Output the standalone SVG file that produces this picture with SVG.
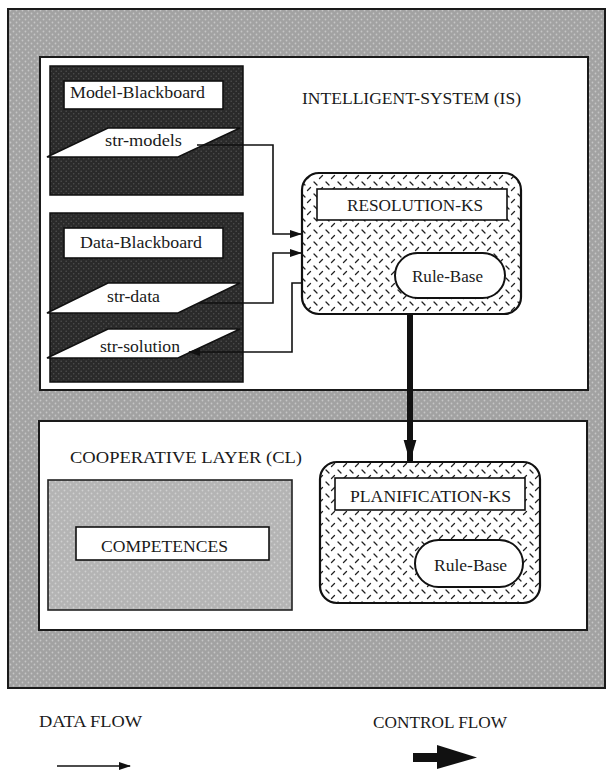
<svg xmlns="http://www.w3.org/2000/svg" width="607" height="772" viewBox="0 0 607 772">
<style>
text{font-family:"Liberation Serif","Times New Roman",serif;font-size:17px;fill:#1a1a1a}
.lbl{fill:#fff;stroke:#111;stroke-width:1.6}
.frame{stroke:#1a1a1a;stroke-width:2}
.ks{fill:url(#tread);stroke:#111;stroke-width:2.2}
.rb{fill:#fff;stroke:#111;stroke-width:2}
.para{fill:#fff;stroke:#111;stroke-width:1.6}
.conn{fill:none;stroke:#111;stroke-width:1.6}
</style>
<defs>
<pattern id="grey" width="6" height="6" patternUnits="userSpaceOnUse">
<rect width="6" height="6" fill="#a2a2a2"/>
<circle cx="1.5" cy="1.5" r="0.9" fill="#c6c6c6"/>
<circle cx="4.5" cy="4.5" r="0.9" fill="#c6c6c6"/>
</pattern>
<pattern id="dark" width="5" height="5" patternUnits="userSpaceOnUse">
<rect width="5" height="5" fill="#2a2a2a"/>
<circle cx="1.2" cy="1.2" r="0.8" fill="#4e4e4e"/>
<circle cx="3.7" cy="3.7" r="0.8" fill="#4e4e4e"/>
</pattern>
<pattern id="light" width="6" height="6" patternUnits="userSpaceOnUse">
<rect width="6" height="6" fill="#b4b4b4"/>
<circle cx="1.5" cy="1.5" r="0.9" fill="#d0d0d0"/>
<circle cx="4.5" cy="4.5" r="0.9" fill="#d0d0d0"/>
</pattern>
<pattern id="tread" width="12" height="12" patternUnits="userSpaceOnUse">
<rect width="12" height="12" fill="#fff"/>
<line x1="2" y1="2" x2="5" y2="5" stroke="#222" stroke-width="1.3" stroke-linecap="round"/>
<line x1="7.5" y1="10.5" x2="10.5" y2="7.5" stroke="#222" stroke-width="1.3" stroke-linecap="round"/>
</pattern>
<marker id="ah" markerWidth="12" markerHeight="8" refX="11" refY="4" orient="auto" markerUnits="userSpaceOnUse">
<path d="M0,0 L12,4 L0,8 z" fill="#111"/>
</marker>
<marker id="thick" markerWidth="22" markerHeight="38" refX="38" refY="11" orient="auto" markerUnits="userSpaceOnUse" viewBox="0 0 38 22">
<path d="M0,0 L38,11 L0,22 z" fill="#111"/>
</marker>
</defs>

<g id="outer-frame">
<rect x="8" y="9" width="597" height="679" fill="url(#grey)" class="frame"/>
</g>

<g id="intelligent-system">
<rect x="40" y="57" width="548" height="333" fill="#fff" class="frame"/>
<text x="302" y="104" textLength="219" lengthAdjust="spacingAndGlyphs">INTELLIGENT-SYSTEM (IS)</text>
</g>

<g id="model-blackboard">
<rect x="50" y="66" width="193" height="129" fill="url(#dark)" stroke="#111" stroke-width="1.5"/>
<rect x="64" y="81" width="159" height="28" class="lbl"/>
<text x="70" y="98" textLength="135" lengthAdjust="spacingAndGlyphs">Model-Blackboard</text>
</g>
<g id="str-models">
<polygon points="108,128 240,128 178,157 47,157" class="para"/>
<text x="105" y="146" textLength="77" lengthAdjust="spacingAndGlyphs">str-models</text>
</g>

<g id="data-blackboard">
<rect x="50" y="213" width="193" height="169" fill="url(#dark)" stroke="#111" stroke-width="1.5"/>
<rect x="64" y="228" width="159" height="30" class="lbl"/>
<text x="80" y="248" textLength="122" lengthAdjust="spacingAndGlyphs">Data-Blackboard</text>
</g>
<g id="str-data">
<polygon points="108,283 240,283 178,313 47,313" class="para"/>
<text x="107" y="302" textLength="53" lengthAdjust="spacingAndGlyphs">str-data</text>
</g>
<g id="str-solution">
<polygon points="108,329 240,329 178,358 47,358" class="para"/>
<text x="100" y="352" textLength="80" lengthAdjust="spacingAndGlyphs">str-solution</text>
</g>

<g id="resolution-ks">
<rect x="302" y="173" width="219" height="141" rx="17" class="ks"/>
<rect x="317" y="189" width="190" height="31" class="lbl"/>
<text x="347" y="211" textLength="136" lengthAdjust="spacingAndGlyphs">RESOLUTION-KS</text>
<rect x="395" y="253" width="110" height="45" rx="22.5" class="rb"/>
<text x="412" y="282" textLength="71" lengthAdjust="spacingAndGlyphs">Rule-Base</text>
</g>

<g id="cooperative-layer">
<rect x="39" y="421" width="548" height="209" fill="#fff" class="frame"/>
<text x="70" y="463" textLength="232" lengthAdjust="spacingAndGlyphs">COOPERATIVE  LAYER (CL)</text>
</g>

<g id="competences">
<rect x="48" y="480" width="244" height="130" fill="url(#light)" stroke="#222" stroke-width="1.6"/>
<rect x="76" y="527" width="193" height="33" class="lbl"/>
<text x="101" y="552" textLength="127" lengthAdjust="spacingAndGlyphs">COMPETENCES</text>
</g>

<g id="planification-ks">
<rect x="320" y="462" width="220" height="141" rx="17" class="ks"/>
<rect x="335" y="478" width="190" height="32" class="lbl"/>
<text x="350" y="502" textLength="161" lengthAdjust="spacingAndGlyphs">PLANIFICATION-KS</text>
<rect x="415" y="540" width="108" height="47" rx="23.5" class="rb"/>
<text x="434" y="571" textLength="73" lengthAdjust="spacingAndGlyphs">Rule-Base</text>
</g>

<g id="connectors">
<path d="M197,145 H273 V234 H301" class="conn" marker-end="url(#ah)"/>
<path d="M199,303 H273 V253 H301" class="conn" marker-end="url(#ah)"/>
<path d="M302,283 H292 V352 H189" class="conn" marker-end="url(#ah)"/>
<path d="M410,314 V462" fill="none" stroke="#111" stroke-width="6" marker-end="url(#thick)"/>
</g>

<g id="legend">
<text x="39" y="727" textLength="103" lengthAdjust="spacingAndGlyphs">DATA FLOW</text>
<path d="M57,766 H130" class="conn" marker-end="url(#ah)"/>
<text x="373" y="728" textLength="134" lengthAdjust="spacingAndGlyphs">CONTROL FLOW</text>
<rect x="413" y="753" width="26" height="9" fill="#111"/>
<polygon points="437,745 477,757.5 437,769" fill="#111"/>
</g>
</svg>
